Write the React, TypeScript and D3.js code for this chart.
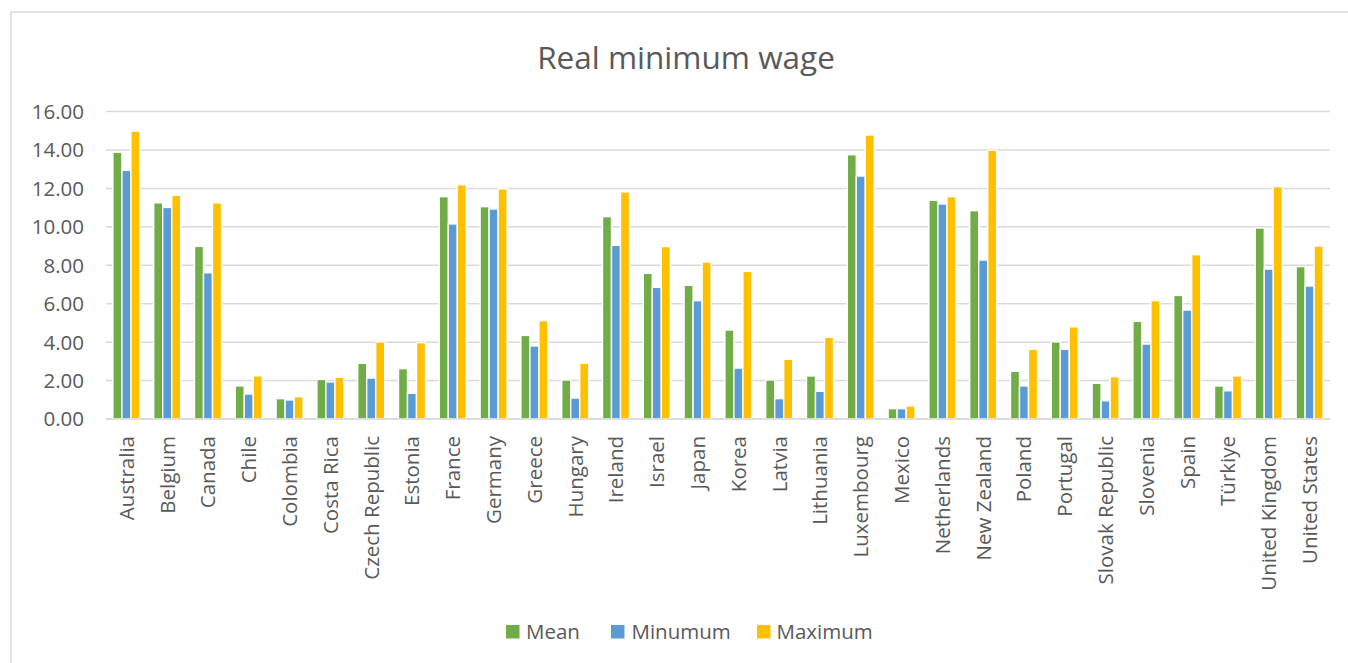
import React from "react";
import * as d3 from "d3";

const countries = [
  "Australia", "Belgium", "Canada", "Chile", "Colombia", "Costa Rica", "Czech Republic",
  "Estonia", "France", "Germany", "Greece", "Hungary", "Ireland", "Israel", "Japan",
  "Korea", "Latvia", "Lithuania", "Luxembourg", "Mexico", "Netherlands", "New Zealand",
  "Poland", "Portugal", "Slovak Republic", "Slovenia", "Spain", "Türkiye",
  "United Kingdom", "United States",
];

const meanValues = [
  13.88, 11.25, 8.98, 1.72, 1.06, 2.06, 2.9, 2.62, 11.57, 11.05, 4.35, 2.03, 10.53, 7.58, 6.96,
  4.63, 2.03, 2.24, 13.75, 0.54, 11.38, 10.84, 2.48, 4.01, 1.86, 5.08, 6.43, 1.72, 9.94, 7.93,
];
const minValues = [
  12.94, 11.01, 7.61, 1.3, 0.99, 1.93, 2.13, 1.34, 10.15, 10.93, 3.8, 1.09, 9.04, 6.85, 6.16,
  2.65, 1.06, 1.44, 12.64, 0.54, 11.19, 8.27, 1.72, 3.63, 0.95, 3.9, 5.67, 1.47, 7.8, 6.92,
];
const maxValues = [
  14.98, 11.64, 11.25, 2.24, 1.16, 2.17, 4.01, 3.97, 12.19, 11.98, 5.12, 2.9, 11.81, 8.97, 8.17,
  7.68, 3.11, 4.25, 14.78, 0.68, 11.57, 13.98, 3.63, 4.8, 2.2, 6.16, 8.55, 2.24, 12.09, 9.0,
];

const seriesNames = ["Mean", "Minumum", "Maximum"];
const seriesColors = ["#70AD47", "#5B9BD5", "#FFC000"];
const seriesData = [meanValues, minValues, maxValues];
const yTicks = [0, 2, 4, 6, 8, 10, 12, 14, 16];

export default function App() {
  const W = 1348;
  const H = 663;
  const font = "'Open Sans', sans-serif";
  const textColor = "#595959";
  const grid = "#d9d9d9";

  const x = d3.scaleBand<string>().domain(countries).range([106, 1330]).paddingInner(0).paddingOuter(0);
  const groupW = 27;
  const xs = d3.scaleBand<string>().domain(seriesNames).range([0, groupW]);
  const y = d3.scaleLinear().domain([0, 16]).range([419, 111.5]);

  // legend layout
  const legendItems = [
    { name: "Mean", sq: 506, tx: 526 },
    { name: "Minumum", sq: 611, tx: 631.5 },
    { name: "Maximum", sq: 757, tx: 776.5 },
  ];

  return (
    <svg
      width={W}
      height={H}
      style={{ position: "absolute", left: 0, top: 0, background: "#fff" }}
      fontFamily={font}
    >
      <rect x={0} y={0} width={W} height={H} fill="#fff" />
      <rect x={11} y={12} width={W + 20} height={H + 20} fill="#fff" stroke={grid} strokeWidth={1.5} />
      <text x={686} y={69} textAnchor="middle" fontSize={31.5} fill={textColor}>
        Real minimum wage
      </text>

      {yTicks.map((t) => (
        <g key={t}>
          <line x1={106} x2={1330} y1={y(t)} y2={y(t)} stroke={grid} strokeWidth={1.5} />
          <text
            x={84}
            y={y(t)}
            dy="0.36em"
            textAnchor="end"
            fontSize={20.5}
            fill={textColor}
          >
            {d3.format(".2f")(t)}
          </text>
        </g>
      ))}

      {countries.map((c, i) => {
        const cx = (x(c) as number) + x.bandwidth() / 2;
        const gx = cx - groupW / 2;
        return (
          <g key={c}>
            {seriesNames.map((s, k) => {
              const v = seriesData[k][i];
              return (
                <rect
                  key={s}
                  x={gx + (xs(s) as number)}
                  y={y(v)}
                  width={xs.bandwidth()}
                  height={y(0) - y(v)}
                  fill={seriesColors[k]}
                  stroke="#fff"
                  strokeWidth={1.4}
                />
              );
            })}
            <text
              transform={`translate(${cx},${436}) rotate(-90)`}
              textAnchor="end"
              dy="0.36em"
              fontSize={20.5}
              fill={textColor}
            >
              {c}
            </text>
          </g>
        );
      })}

      <line x1={106} x2={1330} y1={y(0)} y2={y(0)} stroke={grid} strokeWidth={1.5} />

      {legendItems.map((l, k) => (
        <g key={l.name}>
          <rect x={l.sq} y={625} width={13.5} height={13.5} fill={seriesColors[k]} />
          <text x={l.tx} y={632} dy="0.36em" fontSize={20.5} fill={textColor}>
            {l.name}
          </text>
        </g>
      ))}
    </svg>
  );
}
